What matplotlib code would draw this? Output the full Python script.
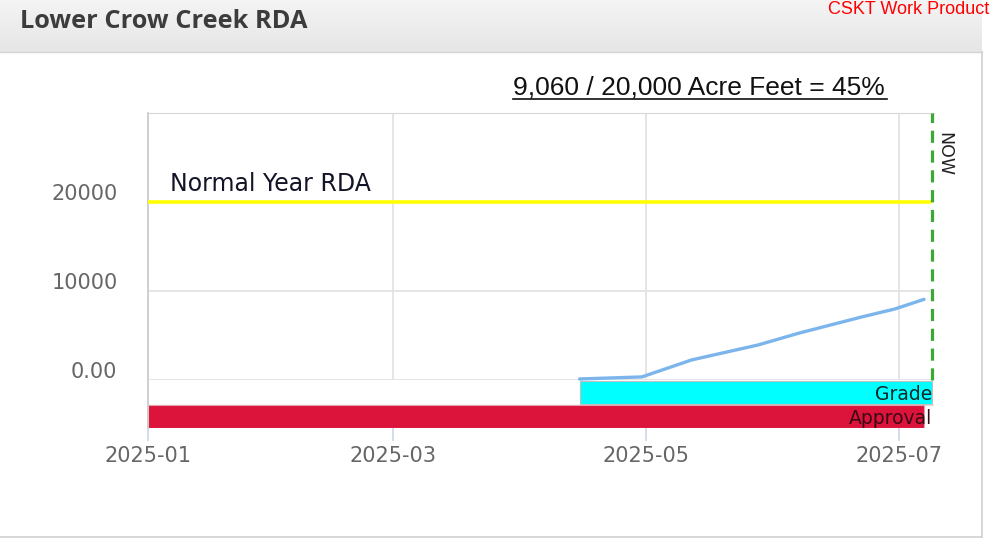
import matplotlib
matplotlib.use("Agg")
import matplotlib.pyplot as plt
import matplotlib.dates as mdates
import numpy as np
from matplotlib.transforms import ScaledTranslation
from matplotlib.lines import Line2D
from matplotlib.colors import LinearSegmentedColormap

plt.rcParams["font.family"] = ["DejaVu Sans"]

# ---------------- data ----------------
usage_dates = ["2025-04-15", "2025-04-30", "2025-05-12", "2025-05-28",
               "2025-06-07", "2025-06-22", "2025-06-30", "2025-07-07"]
usage_values = [110, 340, 2250, 3930, 5280, 7080, 7980, 9060]
rda_target = 20000
used_total = 9060
now_date = "2025-07-09"
tasks = ["Grade", "Approval"]
task_starts = ["2025-04-15", "2025-01-01"]
task_ends = ["2025-07-09", "2025-07-07"]
x_ticks = ["2025-01-01", "2025-03-01", "2025-05-01", "2025-07-01"]
x_tick_labels = ["2025-01", "2025-03", "2025-05", "2025-07"]
y_ticks = [0, 10000, 20000, 30000]
y_tick_labels = ["0.00", "10000", "20000", ""]

# ---------------- layout ----------------
W, H = 990, 541
fig = plt.figure(figsize=(W / 100, H / 100), dpi=100)
fig.patch.set_facecolor("white")

# header band
hax = fig.add_axes([0, 1 - 52 / H, 982 / W, 52 / H])
grad = np.linspace(0, 1, 64).reshape(-1, 1)
hax.imshow(grad, aspect="auto",
           cmap=LinearSegmentedColormap.from_list("hdr", ["#f4f4f4", "#e6e6e6"]),
           extent=[0, 1, 0, 1], origin="upper")
hax.set_axis_off()
fig.add_artist(Line2D([0, 982 / W], [1 - 52 / H, 1 - 52 / H], transform=fig.transFigure,
                      color="#d6d6d6", lw=1))
# panel border
fig.add_artist(Line2D([982 / W, 982 / W], [1 - 52 / H, 4 / H], transform=fig.transFigure,
                      color="#d0d0d0", lw=1.2))
fig.add_artist(Line2D([0, 982 / W], [4 / H, 4 / H], transform=fig.transFigure,
                      color="#d0d0d0", lw=1.2))

fig.text(20 / W, 1 - 22 / H, "Lower Crow Creek RDA", fontsize=18.3, fontweight="bold",
         family="Open Sans", color="#3c3c3c", va="center", ha="left")
fig.text(989 / W, 1 - 9 / H, "CSKT Work Product", fontsize=13, family="Liberation Sans",
         color="#ff0000", va="center", ha="right")

pct = round(used_total / rda_target * 100)
fig.text(513 / W, 1 - 87 / H,
         f"{used_total:,} / {rda_target:,} Acre Feet = {pct}%",
         fontsize=19, family="Liberation Sans", color="#111111",
         va="center", ha="left")
fig.add_artist(Line2D([513 / W, 887 / W], [1 - 99 / H, 1 - 99 / H], transform=fig.transFigure,
                      color="#111111", lw=1.2))

# main axes
x0 = mdates.datestr2num("2025-01-01")
x_right = x0 + 189.4
ax = fig.add_axes([148 / W, 113 / H, (934 - 148) / W, (428 - 113) / H])
ax.set_xlim(x0, x_right)
ax.set_ylim(-5400, 30000)
ax.set_axisbelow(True)

ax.set_xticks([mdates.datestr2num(d) for d in x_ticks])
ax.set_xticklabels(x_tick_labels)
ax.set_yticks(y_ticks)
ax.set_yticklabels(y_tick_labels)
ax.grid(True, axis="both", color="#e3e3e3", lw=1.3)
ax.tick_params(axis="x", length=9, width=1.2, color="#ccd6eb", pad=4,
               labelsize=15, labelcolor="#666666")
ax.tick_params(axis="y", length=0, pad=22, labelsize=15, labelcolor="#666666")
for lab in ax.get_yticklabels():
    lab.set_transform(lab.get_transform() + ScaledTranslation(0, 10 / 100, fig.dpi_scale_trans))
for s in ["right", "bottom"]:
    ax.spines[s].set_visible(False)
ax.spines["top"].set_color("#d8d8d8")
ax.spines["left"].set_color("#cccccc")
ax.spines["left"].set_linewidth(1.3)

# white gantt region below zero
ax.axhspan(-5400, 0, facecolor="white", edgecolor="none", zorder=1)
ax.axhline(-2760, color="#e0e0e0", lw=1, zorder=1.1)

row_centers = [-1420, -4100]
row_height = 2560
bar_colors = ["#00ffff", "#dc143c"]
bar_edges = ["#c0c0c0", "#e6a0ac"]
label_colors = ["#0d2626", "#3a0a14"]
for i, t in enumerate(tasks):
    s = mdates.datestr2num(task_starts[i])
    e = mdates.datestr2num(task_ends[i])
    ax.barh(row_centers[i], e - s, left=s, height=row_height, color=bar_colors[i],
            edgecolor=bar_edges[i], lw=0.8, zorder=2)
    ax.text(mdates.datestr2num(now_date) - 0.1, row_centers[i] - 250, t, ha="right",
            va="center", fontsize=13.5, color=label_colors[i], zorder=4)

# normal year line
nd = mdates.datestr2num(now_date)
ax.plot([x0, nd], [rda_target, rda_target], color="#ffff00", lw=2.6, zorder=3,
        solid_capstyle="butt")
ax.annotate("Normal Year RDA", xy=(x0 + 5.3, rda_target), xytext=(0, 4),
            textcoords="offset points", ha="left", va="bottom", fontsize=17,
            color="#141428", zorder=4)

# usage line
ax.plot([mdates.datestr2num(d) for d in usage_dates], usage_values, color="#7cb5ec",
        lw=2.4, zorder=3, solid_capstyle="round")

# NOW line
ax.plot([nd, nd], [0, 30000], color="#3aaa35", lw=2.3, dashes=(3.8, 2.4), zorder=5,
        clip_on=False)
ax.annotate("NOW", xy=(nd, 30000), xytext=(8.5, -14), textcoords="offset points",
            rotation=270, ha="center", va="top", fontsize=12.5, color="#222222",
            annotation_clip=False)

fig.savefig("out.png", dpi=100)
